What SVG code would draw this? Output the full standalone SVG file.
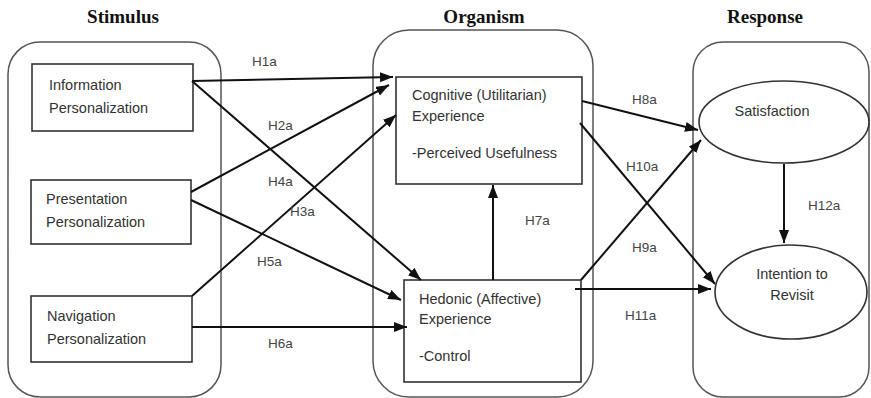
<svg xmlns="http://www.w3.org/2000/svg" width="871" height="398" viewBox="0 0 871 398">
  <style>
    .title { font-family: "Liberation Serif", "Times New Roman", serif; font-weight: bold; font-size: 19px; fill: #111; text-anchor: middle; }
    .panel { fill: none; stroke: #555; stroke-width: 1.5; }
    .box { fill: #fff; stroke: #333; stroke-width: 1.6; }
    .txt { font-family: "Liberation Sans", Arial, sans-serif; font-size: 14.5px; fill: #333; }
    .lbl { font-family: "Liberation Sans", Arial, sans-serif; font-size: 13.5px; fill: #444; }
    .edge { fill: none; stroke: #111; stroke-width: 2; }
  </style>
  <defs>
    <marker id="arrow" markerUnits="userSpaceOnUse" markerWidth="14" markerHeight="12" refX="13" refY="5" orient="auto">
      <path d="M0,0 L13,5 L0,10 z" fill="#111"/>
    </marker>
  </defs>
  <rect width="871" height="398" fill="#fff"/>

  <!-- stage panels -->
  <g id="stimulus">
    <text class="title" x="123" y="23">Stimulus</text>
    <rect class="panel" x="8" y="42" width="213" height="355" rx="32"/>
  </g>
  <g id="organism">
    <text class="title" x="484" y="23">Organism</text>
    <rect class="panel" x="373" y="30" width="220" height="367" rx="36"/>
  </g>
  <g id="response">
    <text class="title" x="765" y="23">Response</text>
    <rect class="panel" x="693" y="42" width="176" height="355" rx="30"/>
  </g>

  <!-- stimulus nodes -->
  <g id="info">
    <rect class="box" x="32" y="64" width="161" height="67"/>
    <text class="txt" x="49" y="90">Information</text>
    <text class="txt" x="49" y="113">Personalization</text>
  </g>
  <g id="presentation">
    <rect class="box" x="31" y="180" width="160" height="64"/>
    <text class="txt" x="46" y="204">Presentation</text>
    <text class="txt" x="46" y="227">Personalization</text>
  </g>
  <g id="navigation">
    <rect class="box" x="31" y="296" width="161" height="66"/>
    <text class="txt" x="47" y="321">Navigation</text>
    <text class="txt" x="47" y="344">Personalization</text>
  </g>

  <!-- organism nodes -->
  <g id="cognitive">
    <rect class="box" x="396" y="77" width="186" height="107"/>
    <text class="txt" x="412" y="100">Cognitive (Utilitarian)</text>
    <text class="txt" x="412" y="121">Experience</text>
    <text class="txt" x="412" y="158">-Perceived Usefulness</text>
  </g>
  <g id="hedonic">
    <rect class="box" x="404" y="280" width="177" height="102"/>
    <text class="txt" x="419" y="304">Hedonic (Affective)</text>
    <text class="txt" x="419" y="324">Experience</text>
    <text class="txt" x="419" y="361">-Control</text>
  </g>

  <!-- response nodes -->
  <g id="satisfaction">
    <ellipse class="box" cx="784" cy="122" rx="85" ry="41"/>
    <text class="txt" x="772" y="116" text-anchor="middle">Satisfaction</text>
  </g>
  <g id="intention">
    <ellipse class="box" cx="791" cy="292" rx="76" ry="47"/>
    <text class="txt" x="792" y="279" text-anchor="middle">Intention to</text>
    <text class="txt" x="792" y="300" text-anchor="middle">Revisit</text>
  </g>

  <!-- hypothesised paths -->
  <g id="connectors">
    <line class="edge" x1="192" y1="81" x2="393" y2="77" marker-end="url(#arrow)"/>
    <line class="edge" x1="192" y1="81" x2="421" y2="280" marker-end="url(#arrow)"/>
    <line class="edge" x1="191" y1="192" x2="389" y2="85" marker-end="url(#arrow)"/>
    <line class="edge" x1="191" y1="200" x2="401" y2="300" marker-end="url(#arrow)"/>
    <line class="edge" x1="192" y1="296" x2="396" y2="115" marker-end="url(#arrow)"/>
    <line class="edge" x1="192" y1="327" x2="407" y2="327" marker-end="url(#arrow)"/>
    <line class="edge" x1="493" y1="280" x2="493" y2="185" marker-end="url(#arrow)"/>
    <line class="edge" x1="582" y1="101" x2="698" y2="130" marker-end="url(#arrow)"/>
    <line class="edge" x1="580" y1="123" x2="715" y2="284" marker-end="url(#arrow)"/>
    <line class="edge" x1="581" y1="280" x2="701" y2="140" marker-end="url(#arrow)"/>
    <line class="edge" x1="575" y1="289" x2="711" y2="289" marker-end="url(#arrow)"/>
    <line class="edge" x1="784" y1="164" x2="784" y2="243" marker-end="url(#arrow)"/>

    <text class="lbl" x="252" y="66">H1a</text>
    <text class="lbl" x="268" y="130">H2a</text>
    <text class="lbl" x="268" y="186">H4a</text>
    <text class="lbl" x="290" y="216">H3a</text>
    <text class="lbl" x="257" y="266">H5a</text>
    <text class="lbl" x="268" y="348">H6a</text>
    <text class="lbl" x="525" y="225">H7a</text>
    <text class="lbl" x="632" y="104">H8a</text>
    <text class="lbl" x="626" y="171">H10a</text>
    <text class="lbl" x="632" y="252">H9a</text>
    <text class="lbl" x="625" y="320">H11a</text>
    <text class="lbl" x="808" y="210">H12a</text>
  </g>
</svg>
